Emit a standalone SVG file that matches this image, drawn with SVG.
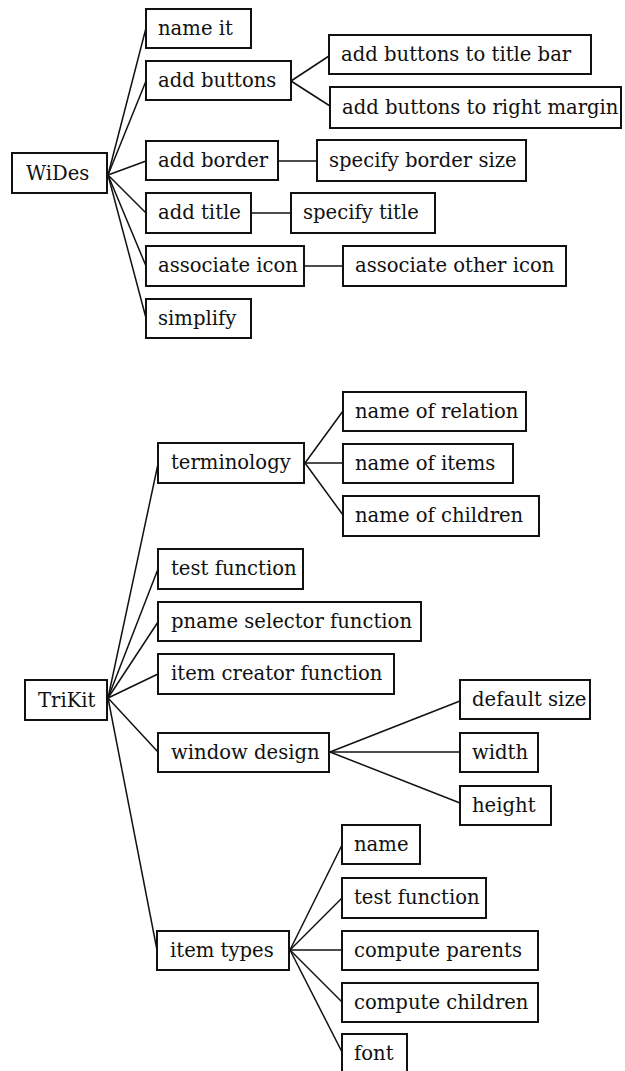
<svg xmlns="http://www.w3.org/2000/svg" width="625" height="1071" viewBox="0 0 625 1071">
<style>
rect{fill:#fff;stroke:#111;stroke-width:2}
text{font-family:"DejaVu Serif","Liberation Serif",serif;font-size:19.6px;fill:#111}
#connectors line{stroke:#111;stroke-width:1.5}
</style>
<rect x="0" y="0" width="625" height="1071" style="fill:#fff;stroke:none"/>
<g id="connectors">
<line x1="108" y1="175" x2="146" y2="28"/>
<line x1="108" y1="175" x2="146" y2="81"/>
<line x1="108" y1="175" x2="146" y2="161"/>
<line x1="108" y1="175" x2="146" y2="213"/>
<line x1="108" y1="175" x2="146" y2="266"/>
<line x1="108" y1="175" x2="146" y2="318"/>
<line x1="291" y1="81" x2="329" y2="56"/>
<line x1="291" y1="81" x2="330" y2="106"/>
<line x1="278" y1="161" x2="317" y2="161"/>
<line x1="251" y1="213" x2="291" y2="213"/>
<line x1="304" y1="266" x2="343" y2="266"/>
<line x1="108" y1="698" x2="158" y2="464"/>
<line x1="108" y1="698" x2="158" y2="569"/>
<line x1="108" y1="698" x2="158" y2="622"/>
<line x1="108" y1="698" x2="158" y2="674"/>
<line x1="108" y1="698" x2="158" y2="752"/>
<line x1="108" y1="698" x2="157" y2="950"/>
<line x1="305" y1="463" x2="343" y2="411"/>
<line x1="305" y1="463" x2="343" y2="463"/>
<line x1="305" y1="463" x2="343" y2="515"/>
<line x1="330" y1="752" x2="460" y2="701"/>
<line x1="330" y1="752" x2="460" y2="752"/>
<line x1="330" y1="752" x2="460" y2="803"/>
<line x1="290" y1="950" x2="342" y2="845"/>
<line x1="290" y1="950" x2="342" y2="898"/>
<line x1="290" y1="950" x2="342" y2="950"/>
<line x1="290" y1="950" x2="342" y2="1002"/>
<line x1="290" y1="950" x2="342" y2="1052"/>
</g>
<g id="wides"><rect x="12" y="153" width="95" height="40"/><text x="26" y="180">WiDes</text></g>
<g id="name-it"><rect x="146" y="9" width="105" height="39"/><text x="158" y="35">name it</text></g>
<g id="add-buttons"><rect x="146" y="61" width="145" height="39"/><text x="158" y="87">add buttons</text></g>
<g id="add-border"><rect x="146" y="141" width="132" height="39"/><text x="158" y="167">add border</text></g>
<g id="add-title"><rect x="146" y="193" width="105" height="40"/><text x="158" y="219">add title</text></g>
<g id="associate-icon"><rect x="146" y="246" width="158" height="40"/><text x="158" y="272">associate icon</text></g>
<g id="simplify"><rect x="146" y="299" width="105" height="39"/><text x="158" y="325">simplify</text></g>
<g id="buttons-title-bar"><rect x="329" y="35" width="262" height="39"/><text x="341" y="61">add buttons to title bar</text></g>
<g id="buttons-right-margin"><rect x="330" y="87" width="291" height="41"/><text x="342" y="114">add buttons to right margin</text></g>
<g id="border-size"><rect x="317" y="140" width="209" height="41"/><text x="329" y="167">specify border size</text></g>
<g id="specify-title"><rect x="291" y="193" width="144" height="40"/><text x="303" y="219">specify title</text></g>
<g id="other-icon"><rect x="343" y="246" width="223" height="40"/><text x="355" y="272">associate other icon</text></g>
<g id="trikit"><rect x="25" y="680" width="82" height="40"/><text x="38" y="707">TriKit</text></g>
<g id="terminology"><rect x="158" y="443" width="146" height="40"/><text x="171" y="469">terminology</text></g>
<g id="test-function"><rect x="158" y="549" width="145" height="40"/><text x="171" y="575">test function</text></g>
<g id="pname"><rect x="158" y="602" width="263" height="39"/><text x="171" y="628">pname selector function</text></g>
<g id="item-creator"><rect x="158" y="654" width="236" height="40"/><text x="171" y="680">item creator function</text></g>
<g id="window-design"><rect x="158" y="733" width="171" height="39"/><text x="171" y="759">window design</text></g>
<g id="item-types"><rect x="157" y="931" width="132" height="39"/><text x="170" y="957">item types</text></g>
<g id="name-of-relation"><rect x="343" y="392" width="183" height="39"/><text x="355" y="418">name of relation</text></g>
<g id="name-of-items"><rect x="343" y="444" width="170" height="39"/><text x="355" y="470">name of items</text></g>
<g id="name-of-children"><rect x="343" y="496" width="196" height="40"/><text x="355" y="522">name of children</text></g>
<g id="default-size"><rect x="460" y="680" width="130" height="39"/><text x="472" y="706">default size</text></g>
<g id="width"><rect x="460" y="733" width="78" height="39"/><text x="472" y="759">width</text></g>
<g id="height"><rect x="460" y="786" width="91" height="39"/><text x="472" y="812">height</text></g>
<g id="name"><rect x="342" y="825" width="78" height="39"/><text x="354" y="851">name</text></g>
<g id="test-function-2"><rect x="342" y="878" width="144" height="40"/><text x="354" y="904">test function</text></g>
<g id="compute-parents"><rect x="342" y="931" width="196" height="39"/><text x="354" y="957">compute parents</text></g>
<g id="compute-children"><rect x="342" y="983" width="196" height="39"/><text x="354" y="1009">compute children</text></g>
<g id="font"><rect x="342" y="1034" width="65" height="38"/><text x="354" y="1060">font</text></g>
</svg>
